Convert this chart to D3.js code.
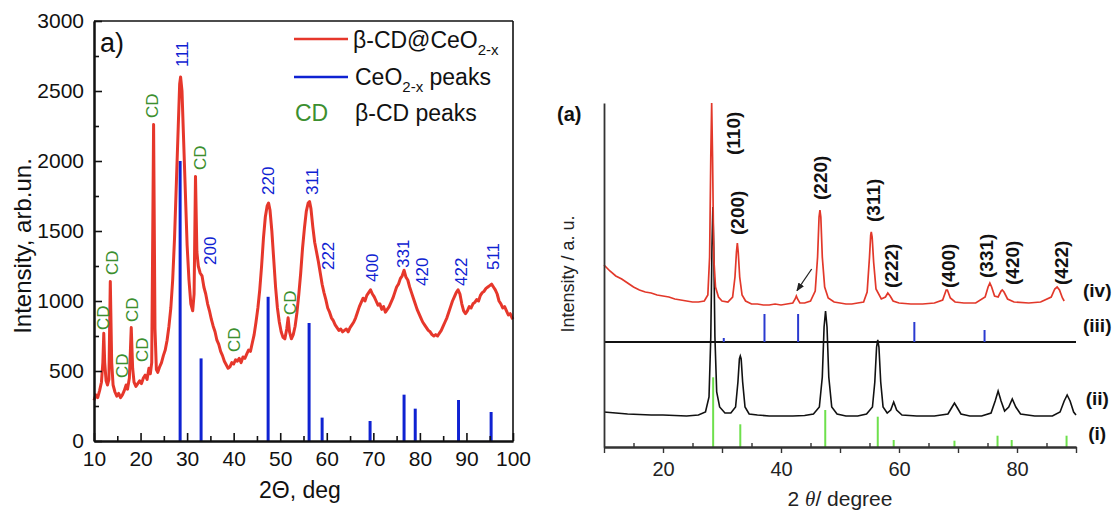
<!DOCTYPE html>
<html><head><meta charset="utf-8">
<script src="https://cdn.jsdelivr.net/npm/d3@7"></script>
<style>body{margin:0;background:#fff}svg{display:block}text{font-family:"Liberation Sans",Arial,sans-serif}</style>
</head><body><svg id="c" width="1114" height="514"></svg>
<script>
// ---------- Panel a (left) data ----------
const leftDeg = [10.0,10.4,10.8,11.2,11.6,11.9,12.1,12.3,12.6,12.9,13.2,13.5,13.8,14.1,14.5,14.9,15.3,15.7,16.1,16.5,16.9,17.2,17.6,18.0,18.3,18.6,19.0,19.4,19.8,20.2,20.6,21.0,21.4,21.8,22.1,22.4,22.8,23.1,23.4,23.7,24.1,24.5,24.9,25.3,25.7,26.1,26.5,26.9,27.3,27.7,28.1,28.4,28.6,28.9,29.2,29.6,30.0,30.4,30.8,31.2,31.5,31.8,32.1,32.4,32.8,33.2,33.6,34.0,34.4,34.8,35.2,35.6,36.0,36.4,36.8,37.2,37.6,38.0,38.4,38.8,39.2,39.6,40.0,40.4,40.8,41.2,41.6,42.0,42.4,42.8,43.2,43.6,44.0,44.4,44.8,45.2,45.6,46.0,46.4,46.8,47.2,47.5,47.8,48.2,48.6,49.0,49.4,49.8,50.2,50.6,51.0,51.4,51.7,52.0,52.4,52.8,53.2,53.6,54.0,54.4,54.8,55.2,55.6,56.0,56.3,56.6,57.0,57.4,57.8,58.2,58.6,59.0,59.4,59.8,60.2,60.6,61.0,61.4,61.8,62.2,62.6,63.0,63.4,63.8,64.2,64.6,65.0,65.4,65.8,66.2,66.6,67.0,67.4,67.8,68.2,68.6,69.0,69.4,69.8,70.2,70.6,71.0,71.4,71.8,72.2,72.6,73.0,73.4,73.8,74.2,74.6,75.0,75.4,75.8,76.2,76.6,77.0,77.4,77.8,78.2,78.6,79.0,79.4,79.8,80.2,80.6,81.0,81.4,81.8,82.2,82.6,83.0,83.4,83.8,84.2,84.6,85.0,85.4,85.8,86.2,86.6,87.0,87.4,87.8,88.2,88.6,89.0,89.4,89.8,90.2,90.6,91.0,91.4,91.8,92.2,92.6,93.0,93.4,93.8,94.2,94.6,95.0,95.4,95.8,96.2,96.6,97.0,97.4,97.8,98.2,98.6,99.0,99.4,99.8,100.0];
const leftInt = [290,330,310,360,420,560,770,560,430,400,440,1140,560,400,350,320,340,310,330,360,400,370,450,810,520,420,390,410,430,410,450,470,440,520,480,560,2260,800,510,490,530,560,610,650,720,820,950,1150,1450,1850,2250,2550,2600,2500,2200,1800,1400,1150,980,930,1050,1890,1350,1250,1200,1180,1100,1050,980,930,870,820,780,720,690,640,610,570,545,520,530,560,550,580,570,590,560,600,590,620,650,640,700,760,850,950,1080,1250,1450,1600,1680,1700,1650,1500,1300,1100,950,850,780,740,730,800,880,780,730,760,820,920,1050,1200,1380,1520,1640,1700,1710,1660,1530,1420,1350,1280,1200,1120,1060,1010,950,920,880,860,830,810,790,800,780,790,800,780,810,830,850,880,920,960,990,1020,1000,1040,1060,1080,1050,1030,1000,970,980,940,960,920,940,960,990,1020,1060,1100,1120,1160,1180,1220,1170,1150,1100,1060,1020,980,940,910,880,850,830,810,790,780,760,750,760,750,770,790,820,850,880,920,960,1000,1030,1060,1080,1050,980,930,910,930,960,950,980,990,1010,1000,1040,1060,1070,1090,1100,1110,1120,1100,1080,1050,1000,980,950,960,930,900,910,880,870];
const ceDeg = [28.5,33.0,47.4,56.2,59.0,69.3,76.6,79.0,88.3,95.3];
const ceInt = [2000,590,1030,843,167,143,331,231,293,207];
// blue hkl labels: text, deg, intensity at label bottom
const hklText = ["111","200","220","311","222","400","331","420","422","511"];
const hklDeg  = [28.9,34.9,47.4,56.8,60.2,69.6,76.4,80.5,88.7,95.6];
const hklInt  = [2671,1257,1757,1757,1221,1136,1236,1107,1107,1221];
// green CD labels
const cdDeg = [22.5,32.7,11.9,13.8,16.0,18.1,20.3,40.0,52.1];
const cdInt = [2307,1936,793,1186,450,850,564,636,900];
const leftXTicks = [10,20,30,40,50,60,70,80,90,100];
const leftYTicks = [0,500,1000,1500,2000,2500,3000];

// ---------- Panel (a) right data (arbitrary units) ----------
const ivDeg = [10,11,12,13,14,15,16,17,18,19,20,21,22,23,24,25,26,27,27.6,27.9,28.1,28.25,28.4,28.6,28.9,29.4,30,31,31.8,32.2,32.45,32.6,32.75,33.0,33.4,34,35,36,37,38,39,40,41,42,42.4,42.6,42.8,43.2,44,45,45.8,46.2,46.45,46.6,46.75,47.0,47.4,48,49,50,51,52,53,54,54.6,55.0,55.2,55.3,55.45,55.7,56.1,57,57.7,58.1,58.5,59,60,62,64,66,67.4,68.0,68.2,68.7,69.5,71,73,74.6,75.1,75.4,75.7,76.2,76.8,77.3,77.5,77.8,78.4,79.5,82,84,85.8,86.4,86.8,87.2,87.7,88];
const ivVal = [182,176,171,168,164,160,157,155,154,152,151,150,148,147,146,145,145,146,152,190,290,344,290,190,160,150,146,145,150,170,195,204,195,170,152,146,143,143,142,142,143,142,143,144,148,151,148,144,144,146,156,190,230,237,230,190,160,149,145,144,143,143,144,145,155,190,212,215,210,185,158,148,150,154,151,146,144,143,143,144,147,157,157,149,145,144,144,150,160,164,160,151,150,156,157,155,148,145,144,145,150,158,160,157,149,146];
const iiDeg = [10,12,14,16,18,20,22,24,26,27.2,27.8,28.1,28.3,28.45,28.6,28.8,29.1,29.6,30.5,31.5,32.3,32.7,32.95,33.1,33.25,33.5,33.9,34.6,36,38,40,42,44,45.5,46.5,47.0,47.3,47.55,47.8,48.1,48.6,49.5,51,53,54.5,55.5,55.9,56.2,56.4,56.6,56.9,57.3,58,58.6,59.1,59.6,60.5,63,66,68.3,69.0,69.4,69.8,70.5,72,74,75.6,76.3,76.8,77.3,77.9,78.6,79.2,79.8,80.6,83,86,87.3,88.0,88.5,89.0,89.6,90];
const iiVal = [35,34,33,32.5,32,32,31.5,31,32,35,50,110,200,240,200,110,55,40,34,34,40,65,88,91,88,65,40,33,32,31,31,31,31.5,33,40,70,120,136,120,70,40,33,31,31,33,40,65,100,107,100,65,40,34,37,45,37,32,31,31,33,40,44,40,33,31,31,34,46,56,46,36,40,48,40,33,31,31,35,46,52,46,35,32];
const iiiBase = 105;
const iiiDeg = [30.3,37.2,42.9,62.6,74.5];
const iiiH   = [4,28,28,20,12];
const iDeg = [28.5,33.1,47.5,56.4,59.1,69.4,76.7,79.1,88.4];
const iH   = [69.7,22.7,37,30.3,7,6.3,11.3,7,11.3];
const rHklText = ["(110)","(200)","(220)","(311)","(222)","(400)","(331)","(420)","(422)"];
const rHklDeg  = [31.9,32.5,46.6,55.6,58.6,68.3,74.7,79.2,87.5];
const rHklVal  = [292,212,247,225,159,159,169,162,162];
const traceText = ["(iv)","(iii)","(ii)","(i)"];
const traceVal  = [157,122,49,14];
const rightXTicks = [20,40,60,80];

// ---------- Drawing ----------
const svg = d3.select("#c");
svg.append("rect").attr("width",1114).attr("height",514).attr("fill","#fff");

// Left panel scales
const xL = d3.scaleLinear().domain([10,100]).range([94,513]);
const yL = d3.scaleLinear().domain([0,3000]).range([441,21]);
const gL = svg.append("g");
const RED = "#e6372b", BLUE = "#0f22d2", GREEN = "#3c8f2f";

// blue stick lines
gL.selectAll("line.ce").data(ceDeg).join("line")
  .attr("x1",d=>xL(d)).attr("x2",d=>xL(d))
  .attr("y1",yL(0)).attr("y2",(d,i)=>yL(ceInt[i]))
  .attr("stroke",BLUE).attr("stroke-width",3);

// red curve
const line = d3.line().x(d=>xL(d[0])).y(d=>yL(d[1]));
gL.append("path").datum(leftDeg.map((d,i)=>[d,leftInt[i]]))
  .attr("d",line).attr("fill","none").attr("stroke",RED).attr("stroke-width",3).attr("stroke-linejoin","round");

// axes
const xAx = d3.axisBottom(xL).tickValues(leftXTicks).tickSizeInner(-8).tickSizeOuter(0).tickPadding(10).tickFormat(d3.format("d"));
gL.append("g").attr("transform",`translate(0,${yL(0)})`).call(xAx);
gL.append("g").attr("transform",`translate(0,${yL(0)})`)
  .call(d3.axisBottom(xL).tickValues(d3.range(15,100,10)).tickSizeInner(-5).tickSizeOuter(0).tickFormat(""));
const yAx = d3.axisLeft(yL).tickValues(leftYTicks).tickSizeInner(-8).tickSizeOuter(0).tickPadding(10).tickFormat(d3.format("d"));
gL.append("g").attr("transform",`translate(${xL(10)},0)`).call(yAx);
gL.append("g").attr("transform",`translate(${xL(10)},0)`)
  .call(d3.axisLeft(yL).tickValues(d3.range(250,3000,500)).tickSizeInner(-5).tickSizeOuter(0).tickFormat(""));
gL.selectAll(".domain").attr("stroke","#111").attr("stroke-width",2);
gL.selectAll(".tick line").attr("stroke","#111").attr("stroke-width",1.6);
gL.selectAll(".tick text").attr("font-size",21).attr("fill","#111").attr("font-family","Liberation Sans, Arial");
// frame top/right
gL.append("line").attr("x1",xL(10)).attr("x2",xL(100)).attr("y1",yL(3000)).attr("y2",yL(3000)).attr("stroke","#111").attr("stroke-width",1.6);
gL.append("line").attr("x1",xL(100)).attr("x2",xL(100)).attr("y1",yL(3000)).attr("y2",yL(0)).attr("stroke","#111").attr("stroke-width",1.6);

// rotated labels
function vlabel(g, x, y, txt, color, size, weight){
  g.append("text").attr("transform",`translate(${x},${y}) rotate(-90)`)
   .attr("dy","0.36em").attr("text-anchor","start").attr("font-size",size)
   .attr("font-weight",weight||"normal").attr("fill",color).text(txt);
}
hklText.forEach((t,i)=>vlabel(gL, xL(hklDeg[i]), yL(hklInt[i]), t, BLUE, 17));
cdDeg.forEach((d,i)=>vlabel(gL, xL(d), yL(cdInt[i]), "CD", GREEN, 17));

// panel label & legend
gL.append("text").attr("x",100).attr("y",52).attr("font-size",27).attr("fill","#111").text("a)");
gL.append("line").attr("x1",294).attr("x2",348).attr("y1",39).attr("y2",39).attr("stroke",RED).attr("stroke-width",2.4);
gL.append("line").attr("x1",294).attr("x2",348).attr("y1",77).attr("y2",77).attr("stroke",BLUE).attr("stroke-width",2.4);
let t1 = gL.append("text").attr("x",353).attr("y",48).attr("font-size",23).attr("fill","#111");
t1.append("tspan").text("β-CD@CeO");
t1.append("tspan").attr("font-size",15).attr("dy",7).text("2-x");
let t2 = gL.append("text").attr("x",355).attr("y",85).attr("font-size",23).attr("fill","#111");
t2.append("tspan").text("CeO");
t2.append("tspan").attr("font-size",15).attr("dy",7).text("2-x");
t2.append("tspan").attr("dy",-7).text(" peaks");
gL.append("text").attr("x",295).attr("y",121).attr("font-size",23).attr("fill",GREEN).text("CD");
gL.append("text").attr("x",355).attr("y",121).attr("font-size",23).attr("fill","#111").text("β-CD peaks");

// axis titles
gL.append("text").attr("x",300).attr("y",498).attr("text-anchor","middle").attr("font-size",23).attr("fill","#111").text("2Θ, deg");
gL.append("text").attr("transform","translate(22,246) rotate(-90)").attr("dy","0.36em").attr("text-anchor","middle").attr("font-size",24).attr("fill","#111").text("Intensity, arb.un.");

// Right panel scales
const xR = d3.scaleLinear().domain([10,90]).range([604,1076]);
const yR = d3.scaleLinear().domain([0,344]).range([447,103]);
const gR = svg.append("g");
const RRED = "#e2382a", RBLUE = "#2a3ad0", RGREEN = "#6ee04c";

// green sticks (i)
gR.selectAll("line.g").data(iDeg).join("line")
  .attr("x1",d=>xR(d)).attr("x2",d=>xR(d)).attr("y1",yR(0)).attr("y2",(d,i)=>yR(iH[i]))
  .attr("stroke",RGREEN).attr("stroke-width",2);
// (iii) baseline + blue sticks
gR.append("line").attr("x1",xR(10)).attr("x2",xR(90)).attr("y1",yR(iiiBase)).attr("y2",yR(iiiBase)).attr("stroke","#111").attr("stroke-width",1.8);
gR.selectAll("line.b").data(iiiDeg).join("line")
  .attr("x1",d=>xR(d)).attr("x2",d=>xR(d)).attr("y1",yR(iiiBase)).attr("y2",(d,i)=>yR(iiiBase+iiiH[i]))
  .attr("stroke",RBLUE).attr("stroke-width",2);
// curves
const lineR = d3.line().x(d=>xR(d[0])).y(d=>yR(d[1]));
gR.append("path").datum(iiDeg.map((d,i)=>[d,iiVal[i]])).attr("d",lineR)
  .attr("fill","none").attr("stroke","#111").attr("stroke-width",1.6);
gR.append("path").datum(ivDeg.map((d,i)=>[d,ivVal[i]])).attr("d",lineR)
  .attr("fill","none").attr("stroke",RRED).attr("stroke-width",1.7);

// axes
gR.append("g").attr("class","raxis").attr("transform",`translate(0,${yR(0)})`)
  .call(d3.axisBottom(xR).tickValues(d3.range(10,91,10)).tickSizeInner(6).tickSizeOuter(0)
        .tickFormat(d=>rightXTicks.includes(d)?d:"").tickPadding(9));
gR.append("g").attr("class","raxis").attr("transform",`translate(0,${yR(0)})`)
  .call(d3.axisBottom(xR).tickValues(d3.range(15,90,10)).tickSizeInner(-4).tickSizeOuter(0).tickFormat(""));
gR.append("g").attr("class","raxis").attr("transform",`translate(${xR(10)},0)`)
  .call(d3.axisLeft(yR).tickValues([]).tickSizeOuter(0));
gR.selectAll(".raxis .domain").attr("stroke","#333").attr("stroke-width",1.8);
gR.selectAll(".raxis .tick line").attr("stroke","#333").attr("stroke-width",1.4);
gR.selectAll(".raxis .tick text").attr("font-size",20).attr("fill","#222").attr("font-family","Liberation Sans, Arial");

rHklText.forEach((t,i)=>vlabel(gR, xR(rHklDeg[i]), yR(rHklVal[i]), t, "#111", 19, "bold"));
traceText.forEach((t,i)=>gR.append("text").attr("x",xR(93.6)).attr("y",yR(traceVal[i])).attr("dy","0.36em")
  .attr("text-anchor","middle").attr("font-size",19).attr("font-weight","bold").attr("fill","#111").text(t));

// arrow
svg.append("defs").append("marker").attr("id","ah").attr("viewBox","0 0 10 10").attr("refX",9).attr("refY",5)
  .attr("markerWidth",7).attr("markerHeight",7).attr("orient","auto")
  .append("path").attr("d","M0,1 L10,5 L0,9 Z").attr("fill","#222");
gR.append("line").attr("x1",xR(45.2)).attr("y1",yR(178)).attr("x2",xR(42.7)).attr("y2",yR(156.3))
  .attr("stroke","#222").attr("stroke-width",1.2).attr("marker-end","url(#ah)");

gR.append("text").attr("x",557).attr("y",121).attr("font-size",20).attr("font-weight","bold")
  .attr("font-family","Liberation Serif, Times New Roman, serif").attr("fill","#111").text("(a)");
let xt = gR.append("text").attr("x",840).attr("y",506).attr("text-anchor","middle").attr("font-size",21).attr("fill","#222");
xt.append("tspan").text("2 ");
xt.append("tspan").attr("font-style","italic").attr("font-family","Liberation Serif, serif").text("θ");
xt.append("tspan").text("/ degree");
gR.append("text").attr("transform","translate(568,274) rotate(-90)").attr("dy","0.36em").attr("text-anchor","middle")
  .attr("font-size",18).attr("fill","#222").text("Intensity / a. u.");
</script></body></html>
